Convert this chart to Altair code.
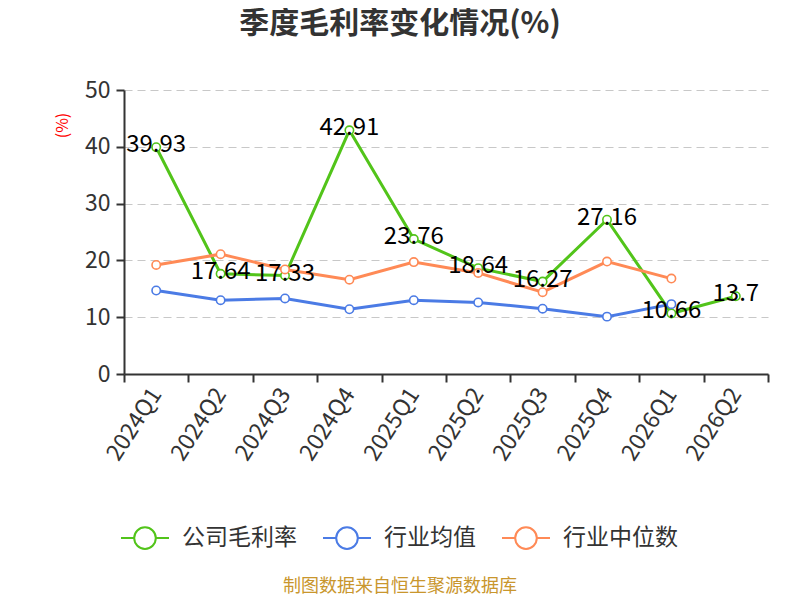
import altair as alt
import pandas as pd

quarters = ["2024Q1", "2024Q2", "2024Q3", "2024Q4", "2025Q1", "2025Q2",
            "2025Q3", "2025Q4", "2026Q1", "2026Q2"]
company = [39.93, 17.64, 17.33, 42.91, 23.76, 18.64, 16.27, 27.16, 10.66, 13.7]
industry_avg = [14.7, 13.0, 13.3, 11.4, 13.0, 12.6, 11.5, 10.1, 12.3, None]
industry_median = [19.2, 21.1, 18.4, 16.6, 19.7, 17.8, 14.4, 19.8, 16.8, None]

series_names = ["公司毛利率", "行业均值", "行业中位数"]
series_colors = ["#52c41a", "#4b7be5", "#ff8a56"]

rows = []
for name, vals in zip(series_names, [company, industry_avg, industry_median]):
    for i, (q, v) in enumerate(zip(quarters, vals)):
        if v is not None:
            rows.append({"quarter": q, "value": v, "series": name,
                         "order": series_names.index(name), "label": f"{v:g}"})
df = pd.DataFrame(rows)

FONT = "Noto Sans CJK SC"

x_enc = alt.X("quarter:N", sort=quarters, bandPosition=0.5,
              scale=alt.Scale(type="band", domain=quarters, paddingInner=0, paddingOuter=0),
              axis=alt.Axis(title=None, labelAngle=-57, labelAlign="right", labelBaseline="middle",
                            labelFontSize=23, labelColor="#333", labelPadding=8,
                            tickBand="extent", tickSize=8, tickColor="#333", tickWidth=2,
                            domainColor="#333", domainWidth=2, labelFont=FONT, grid=False))
y_enc = alt.Y("value:Q",
              scale=alt.Scale(domain=[0, 50], nice=False, zero=True),
              axis=alt.Axis(values=[0, 10, 20, 30, 40, 50], title="(%)", titleColor="red",
                            titleFontSize=16, titleFontWeight="normal", titleFont=FONT,
                            titleAngle=-90, titleX=-62, titleY=35, titleAlign="center",
                            titleBaseline="middle",
                            labelFontSize=23, labelColor="#333", labelFont=FONT, labelPadding=6,
                            tickSize=8, tickColor="#333", tickWidth=2,
                            domainColor="#333", domainWidth=2,
                            grid=True, gridColor="#c8c8c8", gridDash=[8, 5], gridWidth=1.2))

color_enc = alt.Color("series:N",
                      scale=alt.Scale(domain=series_names, range=series_colors),
                      legend=alt.Legend(title=None, orient="none", direction="horizontal",
                                        legendX=-4, legendY=423,
                                        symbolType="M-1,0L-0.45,0M0.45,0L1,0M-0.45,0A0.45,0.45,0,1,1,0.45,0A0.45,0.45,0,1,1,-0.45,0",
                                        symbolSize=2304, symbolStrokeWidth=2,
                                        symbolFillColor="white",
                                        labelFontSize=23, labelColor="#333", labelFont=FONT,
                                        labelOffset=12, columnPadding=22))

base = alt.Chart(df)

lines = base.mark_line(strokeWidth=3).encode(
    x=x_enc, y=y_enc, color=color_enc, detail="series:N", order="order:Q"
)
points = base.mark_point(shape="circle", filled=True, fill="white", size=70, strokeWidth=1.6, opacity=1).encode(
    x=x_enc, y=y_enc, stroke=alt.Stroke("series:N", scale=alt.Scale(domain=series_names, range=series_colors), legend=None)
)
labels = base.transform_filter(alt.datum.series == "公司毛利率").mark_text(
    fontSize=24, color="black", baseline="middle", align="center", dy=-2, font=FONT
).encode(x=x_enc, y=y_enc, text="label:N")

source = alt.Chart(pd.DataFrame({"t": ["制图数据来自恒生聚源数据库"]})).mark_text(
    fontSize=18, color="#c9962d", font=FONT, align="center", baseline="middle"
).encode(x=alt.value(276), y=alt.value(497), text="t:N")

chart = alt.layer(lines, points, labels, source).properties(
    width=644, height=284,
    autosize=alt.AutoSizeParams(type="none"),
    padding={"left": 116, "top": 82, "right": 24, "bottom": 226},
    title=alt.Title("季度毛利率变化情况(%)", fontSize=30, fontWeight="bold", color="#333",
                    font=FONT, anchor="middle", dx=-46, offset=40),
).configure_view(stroke=None)

chart.save("out.html", embed_options={"renderer": "svg", "actions": False})
